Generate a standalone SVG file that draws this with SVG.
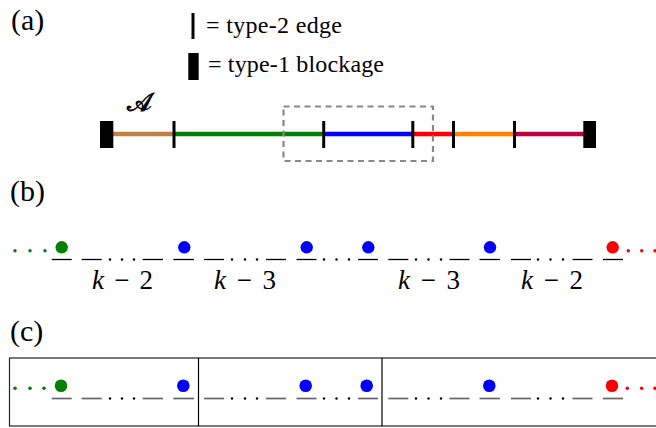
<svg xmlns="http://www.w3.org/2000/svg" xmlns:xlink="http://www.w3.org/1999/xlink" width="656" height="428" viewBox="0 0 656 428">
<style>
text{font-family:'Liberation Serif','DejaVu Serif',serif}
.lbl{font-size:30px;fill:#000}
.leg{font-size:24px;fill:#000}
.math{font-size:27px;fill:#000}
.seg{stroke-width:4.5;fill:none}
.tick{stroke:#000;stroke-width:3}
.blk{fill:#000}
.us{fill:none}
.bd{fill:#000;stroke:none}
</style>
<defs>
<g id="seq">
<line class="us" x1="51.7" y1="0" x2="71.7" y2="0"/>
<line class="us" x1="81.7" y1="0" x2="101.7" y2="0"/>
<line class="us" x1="142.7" y1="0" x2="163" y2="0"/>
<line class="us" x1="173.3" y1="0" x2="194" y2="0"/>
<line class="us" x1="204" y1="0" x2="224" y2="0"/>
<line class="us" x1="266" y1="0" x2="286" y2="0"/>
<line class="us" x1="296.5" y1="0" x2="316.5" y2="0"/>
<line class="us" x1="358" y1="0" x2="378" y2="0"/>
<line class="us" x1="388.3" y1="0" x2="408.3" y2="0"/>
<line class="us" x1="449.5" y1="0" x2="469.5" y2="0"/>
<line class="us" x1="479.5" y1="0" x2="500" y2="0"/>
<line class="us" x1="511" y1="0" x2="531" y2="0"/>
<line class="us" x1="572.5" y1="0" x2="592.5" y2="0"/>
<line class="us" x1="603" y1="0" x2="623" y2="0"/>
<circle class="bd" cx="110" cy="0" r="1.2"/><circle class="bd" cx="122" cy="0" r="1.2"/><circle class="bd" cx="134" cy="0" r="1.2"/>
<circle class="bd" cx="232" cy="0" r="1.2"/><circle class="bd" cx="245" cy="0" r="1.2"/><circle class="bd" cx="257" cy="0" r="1.2"/>
<circle class="bd" cx="324" cy="0" r="1.2"/><circle class="bd" cx="336.5" cy="0" r="1.2"/><circle class="bd" cx="349" cy="0" r="1.2"/>
<circle class="bd" cx="416" cy="0" r="1.2"/><circle class="bd" cx="428.5" cy="0" r="1.2"/><circle class="bd" cx="441" cy="0" r="1.2"/>
<circle class="bd" cx="538" cy="0" r="1.2"/><circle class="bd" cx="550.5" cy="0" r="1.2"/><circle class="bd" cx="563" cy="0" r="1.2"/>
</g>
</defs>
<rect width="656" height="428" fill="#fff"/>

<g id="panel-a">
<text class="lbl" x="11" y="30" font-family="Liberation Serif, DejaVu Serif, serif">(a)</text>
<g id="legend">
<rect x="191.5" y="13" width="3" height="26" fill="#000"/>
<text class="leg" x="206" y="33" textLength="136" lengthAdjust="spacing" font-family="Liberation Serif, DejaVu Serif, serif">= type-2 edge</text>
<rect x="188.3" y="53" width="10.4" height="27" fill="#000"/>
<text class="leg" x="208" y="72" textLength="176" lengthAdjust="spacing" font-family="Liberation Serif, DejaVu Serif, serif">= type-1 blockage</text>
</g>
<g id="path-line">
<line class="seg" stroke="#bf8040" x1="113" y1="134" x2="174" y2="134"/>
<line class="seg" stroke="#008000" x1="174" y1="134" x2="324" y2="134"/>
<line class="seg" stroke="#0000ff" x1="324" y1="134" x2="413" y2="134"/>
<line class="seg" stroke="#ff0000" x1="413" y1="134" x2="453.5" y2="134"/>
<line class="seg" stroke="#ff8000" x1="453.5" y1="134" x2="514.5" y2="134"/>
<line class="seg" stroke="#bf0040" x1="514.5" y1="134" x2="584" y2="134"/>
<rect class="blk" x="100" y="121" width="13.3" height="27"/>
<rect class="blk" x="583.3" y="121" width="12.7" height="27"/>
<line class="tick" x1="174" y1="121" x2="174" y2="148"/>
<line class="tick" x1="323.7" y1="121" x2="323.7" y2="148"/>
<line class="tick" x1="412.8" y1="121" x2="412.8" y2="148"/>
<line class="tick" x1="453.5" y1="121" x2="453.5" y2="148"/>
<line class="tick" x1="514.5" y1="121" x2="514.5" y2="148"/>
<text x="127" y="111" font-size="26" font-weight="bold">𝒜</text>
</g>
<rect id="zoom-box" x="283.5" y="106.5" width="149.5" height="54.5" fill="none" stroke="#888" stroke-width="2.2" stroke-dasharray="6,4.5"/>
</g>

<g id="panel-b">
<text class="lbl" x="10" y="201" font-family="Liberation Serif, DejaVu Serif, serif">(b)</text>
<use xlink:href="#seq" href="#seq" transform="translate(0,259.5)" stroke="#000" stroke-width="1.3"/>
<circle cx="15" cy="250.7" r="1.7" fill="#008000"/><circle cx="30" cy="250.7" r="1.7" fill="#008000"/><circle cx="45" cy="250.7" r="1.7" fill="#008000"/>
<circle cx="61.7" cy="247.3" r="6.2" fill="#008000"/>
<circle cx="184.3" cy="247.3" r="6.2" fill="#0000ff"/>
<circle cx="306.7" cy="247.3" r="6.2" fill="#0000ff"/>
<circle cx="368.3" cy="247.3" r="6.2" fill="#0000ff"/>
<circle cx="490" cy="247.3" r="6.2" fill="#0000ff"/>
<circle cx="612.7" cy="247.3" r="6.2" fill="#ff0000"/>
<circle cx="628.3" cy="250.7" r="1.7" fill="#ff0000"/><circle cx="641.7" cy="250.7" r="1.7" fill="#ff0000"/><circle cx="655" cy="250.7" r="1.7" fill="#ff0000"/>
<text class="math" x="92" y="288.5" textLength="61" lengthAdjust="spacing" font-family="Liberation Serif, DejaVu Serif, serif"><tspan font-style="italic">k</tspan> − 2</text>
<text class="math" x="214" y="288.5" textLength="62" lengthAdjust="spacing" font-family="Liberation Serif, DejaVu Serif, serif"><tspan font-style="italic">k</tspan> − 3</text>
<text class="math" x="398" y="288.5" textLength="62" lengthAdjust="spacing" font-family="Liberation Serif, DejaVu Serif, serif"><tspan font-style="italic">k</tspan> − 3</text>
<text class="math" x="521" y="288.5" textLength="62" lengthAdjust="spacing" font-family="Liberation Serif, DejaVu Serif, serif"><tspan font-style="italic">k</tspan> − 2</text>
</g>

<g id="panel-c">
<text class="lbl" x="10" y="341" font-family="Liberation Serif, DejaVu Serif, serif">(c)</text>
<rect x="9.5" y="358" width="700" height="68" fill="none" stroke="#222" stroke-width="1.2"/>
<line x1="198.5" y1="358" x2="198.5" y2="426" stroke="#000" stroke-width="1.2"/>
<line x1="382" y1="358" x2="382" y2="426" stroke="#000" stroke-width="1.2"/>
<use xlink:href="#seq" href="#seq" transform="translate(0,398.5)" stroke="#666" stroke-width="1.7"/>
<circle cx="15" cy="388.3" r="1.8" fill="#008000"/><circle cx="30" cy="388.3" r="1.8" fill="#008000"/><circle cx="44" cy="388.3" r="1.8" fill="#008000"/>
<circle cx="61" cy="385.7" r="6.3" fill="#008000"/>
<circle cx="183.3" cy="385.7" r="6.3" fill="#0000ff"/>
<circle cx="305.7" cy="385.7" r="6.3" fill="#0000ff"/>
<circle cx="366.7" cy="385.7" r="6.3" fill="#0000ff"/>
<circle cx="489.3" cy="385.7" r="6.3" fill="#0000ff"/>
<circle cx="612" cy="385.7" r="6.3" fill="#ff0000"/>
<circle cx="627.3" cy="388.3" r="1.8" fill="#ff0000"/><circle cx="641.7" cy="388.3" r="1.8" fill="#ff0000"/><circle cx="655" cy="388.3" r="1.8" fill="#ff0000"/>
</g>
</svg>
